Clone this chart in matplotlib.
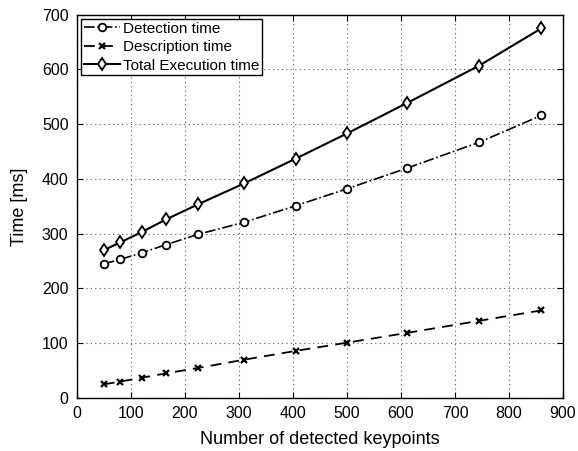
import numpy as np
import matplotlib
matplotlib.use("Agg")
import matplotlib.pyplot as plt

plt.rcParams['font.family'] = ['Liberation Sans', 'DejaVu Sans']

keypoints = [50, 80, 120, 165, 225, 310, 405, 500, 612, 745, 860]
detection = [245, 253, 265, 280, 299, 321, 351, 382, 420, 467, 516]
description = [25, 30, 37, 45, 55, 70, 86, 101, 119, 141, 160]
total = [270, 284, 303, 326, 354, 392, 437, 483, 539, 607, 675]

fig = plt.figure(figsize=(5.78, 4.51), dpi=100)
ax = fig.add_axes([0.133, 0.1175, 0.841, 0.85])

ax.plot(keypoints, detection, color='black', linestyle='-.', marker='o',
        markersize=5.5, markerfacecolor='white', markeredgewidth=1.3, lw=1.2,
        label='Detection time')
ax.plot(keypoints, description, color='black', linestyle='--', marker='x',
        markersize=4, markeredgewidth=1.6, lw=1.3, dashes=(6, 4),
        label='Description time')
ax.plot(keypoints, total, color='black', linestyle='-', marker='d',
        markersize=6, markerfacecolor='white', markeredgewidth=1.3, lw=1.5,
        label='Total Execution time')

ax.set_xlim(0, 900)
ax.set_ylim(0, 700)
ax.set_xticks(np.arange(0, 901, 100))
ax.set_yticks(np.arange(0, 701, 100))
ax.grid(True, linestyle=(0, (1, 3)), color='#555555', lw=0.8)
ax.tick_params(direction='in', labelsize=11.5, top=True, right=True, length=4, pad=6)
for s in ax.spines.values():
    s.set_linewidth(1.0)

ax.set_xlabel('Number of detected keypoints', fontsize=13, labelpad=7)
ax.set_ylabel('Time [ms]', fontsize=13, labelpad=10)

leg = ax.legend(loc='upper left', fontsize=11, fancybox=False, framealpha=1,
                edgecolor='black', borderpad=0.15, labelspacing=0.3,
                handlelength=2.4, handletextpad=0.2, borderaxespad=0.3)
leg.get_frame().set_linewidth(1.0)

fig.savefig('out.png', dpi=100)
